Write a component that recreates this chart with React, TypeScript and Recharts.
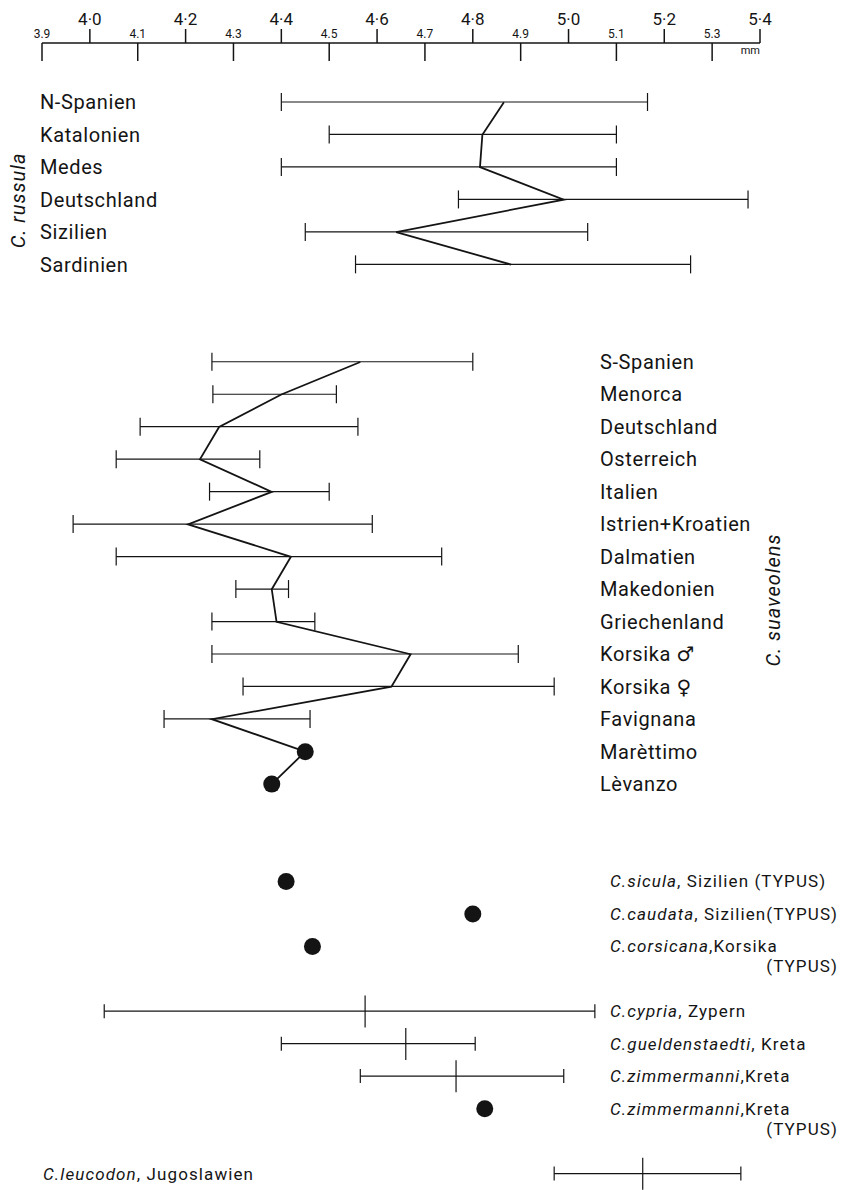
import { ComposedChart, Bar, Line, XAxis, YAxis, ReferenceArea } from 'recharts';

// Skull length ranges (mm): min / mean / max
const russulaPops = ['N-Spanien', 'Katalonien', 'Medes', 'Deutschland', 'Sizilien', 'Sardinien'];
const russulaMin = [4.4, 4.5, 4.4, 4.77, 4.45, 4.555];
const russulaMean = [4.865, 4.82, 4.815, 4.99, 4.64, 4.88];
const russulaMax = [5.165, 5.1, 5.1, 5.375, 5.04, 5.255];

const suaveolensPops = [
  'S-Spanien', 'Menorca', 'Deutschland', 'Osterreich', 'Italien', 'Istrien+Kroatien', 'Dalmatien',
  'Makedonien', 'Griechenland', 'Korsika ♂', 'Korsika ♀', 'Favignana', 'Marèttimo', 'Lèvanzo',
];
const suaveolensMin = [4.255, 4.257, 4.105, 4.055, 4.25, 3.965, 4.055, 4.305, 4.255, 4.255, 4.32, 4.155, null, null];
const suaveolensMean = [4.565, 4.4, 4.27, 4.23, 4.38, 4.205, 4.42, 4.38, 4.39, 4.67, 4.63, 4.255, 4.45, 4.38];
const suaveolensMax = [4.8, 4.515, 4.56, 4.355, 4.5, 4.59, 4.735, 4.415, 4.47, 4.895, 4.97, 4.46, null, null];

const otherTaxa = ['C.sicula', 'C.caudata', 'C.corsicana', 'C.cypria', 'C.gueldenstaedti', 'C.zimmermanni', 'C.zimmermanni', 'C.leucodon'];
const otherPlaces = [', Sizilien (TYPUS)', ', Sizilien(TYPUS)', ',Korsika\n(TYPUS)', ', Zypern', ', Kreta', ',Kreta', ',Kreta\n(TYPUS)', ', Jugoslawien'];
const otherSide = ['right', 'right', 'right', 'right', 'right', 'right', 'right', 'left'];
const otherMin = [null, null, null, 4.03, 4.4, 4.565, null, 4.97];
const otherMean = [4.41, 4.8, 4.465, 4.575, 4.66, 4.765, 4.825, 5.155];
const otherMax = [null, null, null, 5.055, 4.805, 4.99, null, 5.36];

const scaleTicks = [3.9, 4.0, 4.1, 4.2, 4.3, 4.4, 4.5, 4.6, 4.7, 4.8, 4.9, 5.0, 5.1, 5.2, 5.3, 5.4];

const INK = '#141414';
const FONT = 'Roboto, "DejaVu Sans", sans-serif';

type Row = {
  key: string;
  group: 'russula' | 'suaveolens' | 'other' | 'gap';
  label: string;
  place?: string;
  side: string;
  range: [number, number] | null;
  russMean: number | null;
  suavMean: number | null;
  otherMean: number | null;
};

const rows: Row[] = [];
let gapCount = 0;
const addGap = () => {
  gapCount += 1;
  rows.push({ key: 'gap' + gapCount, group: 'gap', label: '', side: '', range: null, russMean: null, suavMean: null, otherMean: null });
};
const toRange = (lo: number | null, hi: number | null): [number, number] | null =>
  lo == null || hi == null ? null : [lo, hi];

russulaPops.forEach((p, i) => {
  rows.push({
    key: 'r' + i, group: 'russula', label: p, side: 'left',
    range: toRange(russulaMin[i], russulaMax[i]), russMean: russulaMean[i], suavMean: null, otherMean: null,
  });
});
addGap();
addGap();
suaveolensPops.forEach((p, i) => {
  rows.push({
    key: 's' + i, group: 'suaveolens', label: p, side: 'right',
    range: toRange(suaveolensMin[i], suaveolensMax[i]), russMean: null, suavMean: suaveolensMean[i], otherMean: null,
  });
});
addGap();
addGap();
otherTaxa.forEach((t, i) => {
  rows.push({
    key: 'o' + i, group: 'other', label: t, place: otherPlaces[i], side: otherSide[i],
    range: toRange(otherMin[i], otherMax[i]), russMean: null, suavMean: null, otherMean: otherMean[i],
  });
  if (otherPlaces[i].includes('\n')) addGap();
});

const rowByKey = new Map(rows.map((r) => [r.key, r]));

const fmtTick = (v: number) => {
  const major = Math.round(v * 10) % 2 === 0;
  return v.toFixed(1).replace('.', major ? '·' : '.');
};

const ScaleTick = (props: any) => {
  const { x, y, payload } = props;
  const v = payload.value as number;
  const major = Math.round(v * 10) % 2 === 0;
  return (
    <g>
      {major ? (
        <>
          <line x1={x} x2={x} y1={y} y2={y - 14} stroke={INK} strokeWidth={1.5} />
          <text x={x} y={y - 18} textAnchor="middle" fontSize={17} fill={INK} fontFamily={FONT}>
            {fmtTick(v)}
          </text>
        </>
      ) : (
        <>
          <line x1={x} x2={x} y1={y} y2={y + 18} stroke={INK} strokeWidth={1.5} />
          <text x={x} y={y - 5} textAnchor="middle" fontSize={12} fill={INK} fontFamily={FONT}>
            {fmtTick(v)}
          </text>
        </>
      )}
      {v === scaleTicks[scaleTicks.length - 1] && (
        <text x={x} y={y + 11} textAnchor="end" fontSize={11} fill={INK} fontFamily={FONT}>
          mm
        </text>
      )}
    </g>
  );
};

const RowLabel = (props: any) => {
  const { y, payload } = props;
  const row = rowByKey.get(payload.value);
  if (!row || row.group === 'gap') return <g />;
  if (row.group !== 'other') {
    return (
      <text
        x={row.side === 'left' ? 40 : 600}
        y={y}
        dy="0.35em"
        fontSize={20}
        letterSpacing={0.6}
        fill={INK}
        fontFamily={FONT}
      >
        {row.label}
      </text>
    );
  }
  const [first, second] = (row.place || '').split('\n');
  return (
    <g>
      <text x={row.side === 'left' ? 43 : 610} y={y} dy="0.35em" fontSize={17} letterSpacing={1.1} fill={INK} fontFamily={FONT}>
        <tspan fontStyle="italic">{row.label}</tspan>
        <tspan>{first}</tspan>
      </text>
      {second && (
        <text x={838} y={y + 20} dy="0.35em" textAnchor="end" fontSize={17} letterSpacing={1.1} fill={INK} fontFamily={FONT}>
          {second}
        </text>
      )}
    </g>
  );
};

const RangeShape = (props: any) => {
  const { x, y, width, height, payload } = props;
  if (!payload || !payload.range) return <g />;
  const cy = y + height / 2;
  const cap = payload.group === 'other' ? 7 : 9;
  return (
    <g stroke={INK} strokeWidth={1.2}>
      <line x1={x} x2={x + width} y1={cy} y2={cy} />
      <line x1={x} x2={x} y1={cy - cap} y2={cy + cap} />
      <line x1={x + width} x2={x + width} y1={cy - cap} y2={cy + cap} />
    </g>
  );
};

// means without a range are single specimens: drawn as filled dots
const MeanMark = (props: any) => {
  const { cx, cy, payload, index } = props;
  if (!Number.isFinite(cx) || !Number.isFinite(cy)) return <g key={'m' + index} />;
  if (payload.range) {
    if (payload.group !== 'other') return <g key={'m' + index} />;
    return <line key={'m' + index} x1={cx} x2={cx} y1={cy - 16} y2={cy + 16} stroke={INK} strokeWidth={1.2} />;
  }
  return <circle key={'m' + index} cx={cx} cy={cy} r={8.5} fill={INK} />;
};

const GroupTitle = ({ viewBox, text, dx, dy, side }: any) => {
  if (!viewBox) return null;
  const cx = side === 'left' ? viewBox.x + dx : viewBox.x + viewBox.width + dx;
  const cy = viewBox.y + viewBox.height / 2 + dy;
  return (
    <text
      x={cx}
      y={cy}
      transform={`rotate(-90 ${cx} ${cy})`}
      textAnchor="middle"
      dominantBaseline="central"
      fontSize={20}
      fontStyle="italic"
      letterSpacing={1}
      fill={INK}
      fontFamily={FONT}
    >
      {text}
    </text>
  );
};

export default function App() {
  return (
    <div style={{ position: 'absolute', left: 0, top: 0, width: 843, height: 1190, background: '#fff' }}>
      <ComposedChart
        width={843}
        height={1190}
        data={rows}
        layout="vertical"
        margin={{ top: 0, right: 83, bottom: 0, left: 0 }}
      >
        <XAxis
          type="number"
          orientation="top"
          domain={[3.9, 5.4]}
          ticks={scaleTicks}
          interval={0}
          height={43}
          tickSize={0}
          tickMargin={0}
          tickLine={false}
          axisLine={{ stroke: INK, strokeWidth: 1.5 }}
          tick={<ScaleTick />}
        />
        <YAxis
          type="category"
          dataKey="key"
          width={42}
          interval={0}
          axisLine={false}
          tickLine={false}
          padding={{ top: 43, bottom: 0 }}
          tick={<RowLabel />}
        />
        <ReferenceArea
          y1="r0"
          y2="r5"
          fill="none"
          stroke="none"
          ifOverflow="visible"
          label={(p: any) => <GroupTitle {...p} text="C. russula" side="left" dx={-24} dy={17} />}
        />
        <ReferenceArea
          y1="s0"
          y2="s13"
          fill="none"
          stroke="none"
          ifOverflow="visible"
          label={(p: any) => <GroupTitle {...p} text="C. suaveolens" side="right" dx={13} dy={27} />}
        />
        <Bar dataKey="range" barSize={4} shape={<RangeShape />} isAnimationActive={false} />
        <Line dataKey="russMean" stroke={INK} strokeWidth={1.8} dot={false} activeDot={false} isAnimationActive={false} />
        <Line dataKey="suavMean" stroke={INK} strokeWidth={1.8} dot={MeanMark} activeDot={false} isAnimationActive={false} />
        <Line dataKey="otherMean" stroke="none" dot={MeanMark} activeDot={false} isAnimationActive={false} />
      </ComposedChart>
    </div>
  );
}
